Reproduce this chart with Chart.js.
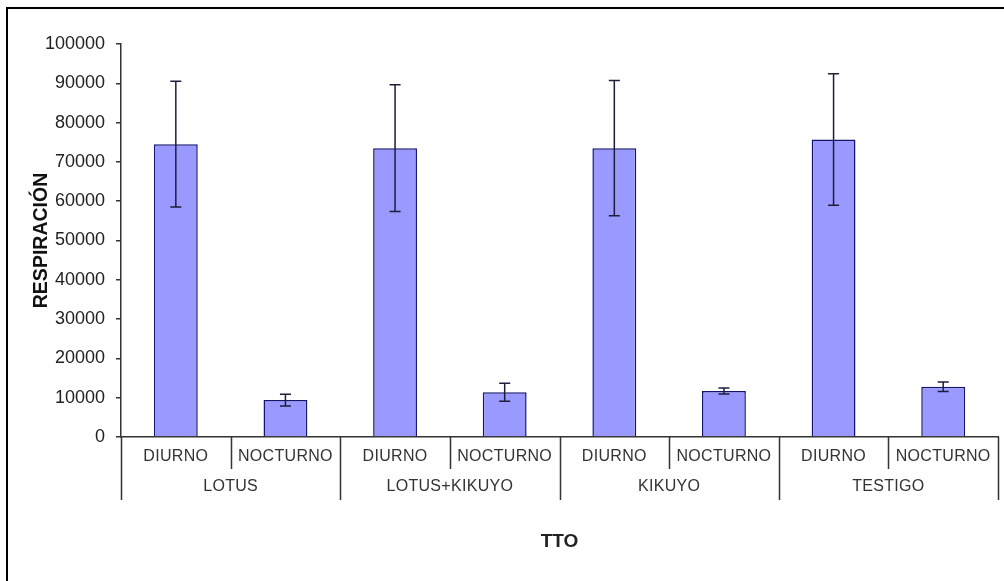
<!DOCTYPE html>
<html>
<head>
<meta charset="utf-8">
<script src="https://cdn.jsdelivr.net/npm/chart.js@4.4.1/dist/chart.umd.min.js"></script>
<style>
  html, body { margin: 0; padding: 0; background: #fff; }
  canvas { display: block; }
</style>
</head>
<body>
<canvas id="grafico" width="1004" height="581"></canvas>
<script>
// Datos
const grupos = ["LOTUS", "LOTUS+KIKUYO", "KIKUYO", "TESTIGO"];
const periodos = ["DIURNO", "NOCTURNO"];
const respiracion = [74500, 9400, 73500, 11400, 73500, 11700, 75700, 12800];
const errorResp = [16000, 1500, 16100, 2300, 17200, 750, 16700, 1200];
const yMin = 0, yMax = 100000, yPaso = 10000;

// etiquetas de la categoría: periodo dentro de cada grupo
const categorias = [];
grupos.forEach(g => periodos.forEach(p => categorias.push(p)));

// marco exterior (solo arriba e izquierda, como en la imagen)
const marco = {
    id: "marco",
    beforeDraw(chart) {
        const ctx = chart.ctx;
        ctx.save();
        ctx.fillStyle = "#fff";
        ctx.fillRect(0, 0, chart.width, chart.height);
        ctx.strokeStyle = "#000";
        ctx.lineWidth = 2;
        ctx.beginPath();
        ctx.moveTo(7, chart.height);
        ctx.lineTo(7, 8);
        ctx.lineTo(chart.width, 8);
        ctx.stroke();
        ctx.restore();
    }
};

// barras de error
const barrasError = {
    id: "barrasError",
    afterDatasetsDraw(chart) {
        const ctx = chart.ctx;
        const y = chart.scales.y;
        const meta = chart.getDatasetMeta(0);
        ctx.save();
        ctx.strokeStyle = "#1e1e3c";
        ctx.lineWidth = 1.5;
        meta.data.forEach((bar, i) => {
            const v = respiracion[i], e = errorResp[i];
            const yArr = y.getPixelForValue(v + e);
            const yAba = y.getPixelForValue(v - e);
            ctx.beginPath();
            ctx.moveTo(bar.x, yArr);
            ctx.lineTo(bar.x, yAba);
            ctx.moveTo(bar.x - 5.5, yArr);
            ctx.lineTo(bar.x + 5.5, yArr);
            ctx.moveTo(bar.x - 5.5, yAba);
            ctx.lineTo(bar.x + 5.5, yAba);
            ctx.stroke();
        });
        ctx.restore();
    }
};

// eje x de dos niveles: periodo y tratamiento
const ejeDosNiveles = {
    id: "ejeDosNiveles",
    afterDraw(chart) {
        const ctx = chart.ctx;
        const x = chart.scales.x;
        const area = chart.chartArea;
        const base = area.bottom;
        const n = categorias.length;
        const borde = i => {
            if (i === 0) return area.left;
            if (i === n) return area.right;
            return (x.getPixelForValue(i - 1) + x.getPixelForValue(i)) / 2;
        };
        ctx.save();
        ctx.strokeStyle = "#333";
        ctx.lineWidth = 1.5;
        ctx.beginPath();
        for (let i = 0; i <= n; i++) {
            const px = Math.round(borde(i)) + 0.5;
            const largo = (i % periodos.length === 0) ? 63 : 32;
            ctx.moveTo(px, base);
            ctx.lineTo(px, base + largo);
        }
        ctx.stroke();

        ctx.fillStyle = "#333";
        ctx.font = "16px 'Liberation Sans', Arial, sans-serif";
        ctx.textAlign = "center";
        ctx.textBaseline = "middle";
        ctx.letterSpacing = "0.3px";
        categorias.forEach((c, i) => {
            ctx.fillText(c, x.getPixelForValue(i), base + 20);
        });
        grupos.forEach((g, j) => {
            const a = borde(j * periodos.length);
            const b = borde((j + 1) * periodos.length);
            ctx.fillText(g, (a + b) / 2, base + 50);
        });
        ctx.restore();
    }
};

const ctx = document.getElementById("grafico").getContext("2d");
new Chart(ctx, {
    type: "bar",
    data: {
        labels: categorias,
        datasets: [{
            label: "Respiración",
            data: respiracion,
            backgroundColor: "#9999ff",
            borderColor: "#14146e",
            borderWidth: 1.5,
            barPercentage: 0.4,
            categoryPercentage: 1
        }]
    },
    options: {
        responsive: false,
        animation: false,
        layout: { padding: { left: 0, right: 6, top: 44, bottom: 0 } },
        plugins: {
            legend: { display: false },
            tooltip: { enabled: false }
        },
        scales: {
            x: {
                afterFit: s => { s.height = 144; },
                grid: { display: false },
                border: { display: true, color: "#333", width: 1.5 },
                ticks: { display: false },
                title: {
                    display: true,
                    text: "TTO",
                    color: "#222",
                    font: { family: "'Liberation Sans', Arial, sans-serif", size: 19, weight: "bold" },
                    padding: { top: 0, bottom: 28 }
                }
            },
            y: {
                min: yMin,
                max: yMax,
                afterFit: s => { s.width = 121; },
                ticks: {
                    stepSize: yPaso,
                    color: "#222",
                    padding: 11,
                    font: { family: "'Liberation Sans', Arial, sans-serif", size: 18 },
                    callback: v => String(v)
                },
                grid: { drawOnChartArea: false, drawTicks: true, tickLength: 5, color: "#333", lineWidth: 1.5 },
                border: { display: true, color: "#333", width: 1.5 },
                title: {
                    display: true,
                    text: "RESPIRACIÓN",
                    color: "#111",
                    font: { family: "'Liberation Sans', Arial, sans-serif", size: 19.5, weight: "bold" },
                    padding: { top: 30, bottom: 0 }
                }
            }
        }
    },
    plugins: [marco, barrasError, ejeDosNiveles]
});
</script>
</body>
</html>
